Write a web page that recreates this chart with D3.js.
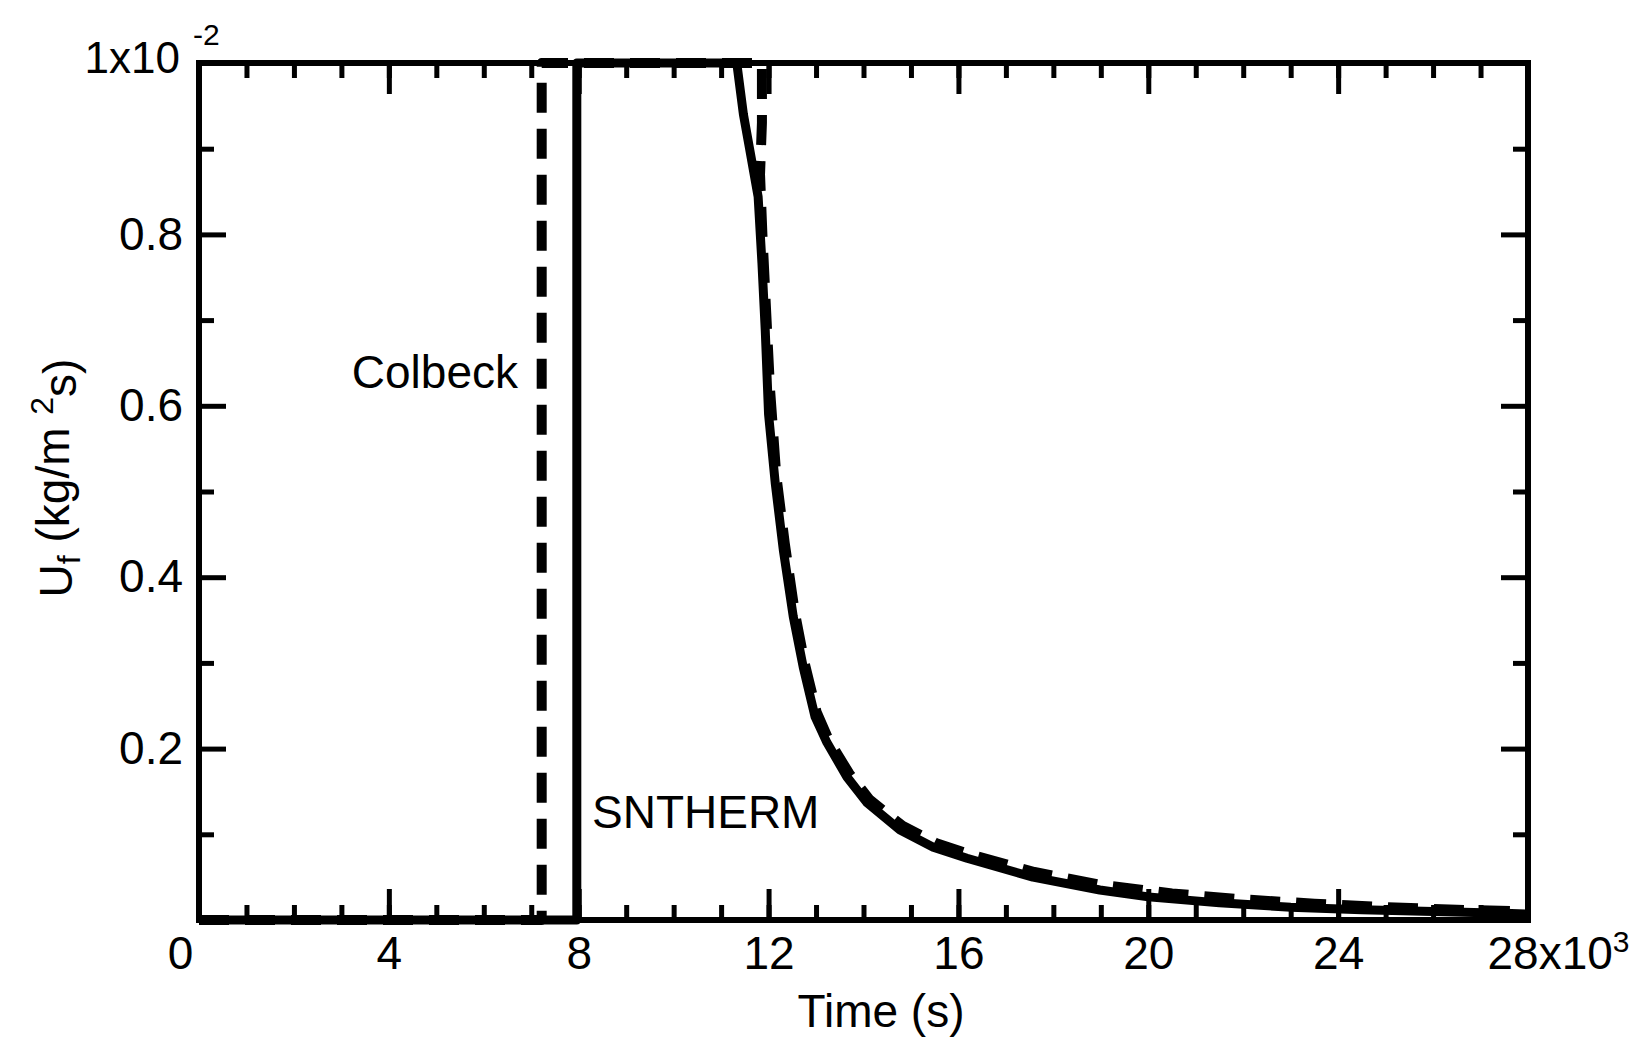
<!DOCTYPE html>
<html>
<head>
<meta charset="utf-8">
<script src="https://cdn.jsdelivr.net/npm/d3@7"></script>
<style>
  html, body { margin: 0; padding: 0; background: #fff; }
  text { font-family: "Liberation Sans", Arial, sans-serif; fill: #000; }
</style>
</head>
<body>
<svg id="chart" width="1642" height="1046"></svg>
<script>
// ---- data (time in 10^3 s, flux in 10^-2 kg/m^2 s) ----
const snthermTime = [0, 7.96, 7.96, 11.33, 11.47, 11.6, 11.78, 11.86, 11.93, 12.0, 12.14, 12.31, 12.52, 12.73, 12.98, 13.23, 13.65, 14.07, 14.77, 15.47, 16.18, 17.57, 18.98, 20.0, 21.5, 23.0, 24.5, 26.0, 27.5, 28];
const snthermFlux = [0, 0, 1.0, 1.0, 0.94, 0.90, 0.844, 0.767, 0.688, 0.59, 0.51, 0.432, 0.354, 0.295, 0.237, 0.207, 0.167, 0.137, 0.105, 0.085, 0.072, 0.050, 0.035, 0.027, 0.020, 0.015, 0.012, 0.010, 0.008, 0.007];

const colbeckTime = [0, 7.22, 7.22, 11.86, 11.86, 11.82, 11.87, 11.94, 12.03, 12.16, 12.34, 12.55, 12.76, 13.01, 13.27, 13.7, 14.12, 14.82, 15.52, 16.22, 17.6, 19.0, 20.5, 22.0, 23.5, 25.0, 26.5, 28];
const colbeckFlux = [0, 0, 1.0, 1.0, 0.93, 0.87, 0.80, 0.72, 0.62, 0.52, 0.44, 0.36, 0.30, 0.243, 0.21, 0.171, 0.141, 0.110, 0.090, 0.077, 0.056, 0.041, 0.031, 0.024, 0.019, 0.015, 0.012, 0.010];

const xMajorTicks = [0, 4, 8, 12, 16, 20, 24, 28];
const xMajorLabels = ["0", "4", "8", "12", "16", "20", "24", "28x10"];
const xMinorTicks = d3.range(0, 29, 1);
const yMajorTicks = [0.2, 0.4, 0.6, 0.8];
const yMajorLabels = ["0.2", "0.4", "0.6", "0.8"];
const yMinorTicks = [0.1, 0.3, 0.5, 0.7, 0.9];
const xExponent = "3";
const yTopLabel = "1x10";
const yExponent = "-2";
const seriesNames = ["Colbeck", "SNTHERM"];

// ---- layout ----
const svg = d3.select("#chart");
const L = 199, R = 1528, T = 63, B = 920;
const x = d3.scaleLinear().domain([0, 28]).range([L, R]);
const y = d3.scaleLinear().domain([0, 1]).range([B, T]);
const FS = 46;

svg.append("rect").attr("width", 1642).attr("height", 1046).attr("fill", "#fff");

// curves
const line = d3.line().x(d => x(d[0])).y(d => y(d[1]));
const sData = snthermTime.map((t, i) => [t, snthermFlux[i]]);
const cData = colbeckTime.map((t, i) => [t, colbeckFlux[i]]);

svg.append("path").datum(cData).attr("d", line)
  .attr("fill", "none").attr("stroke", "#000").attr("stroke-width", 10)
  .attr("stroke-dasharray", "30,16").attr("stroke-linejoin", "round");
svg.append("path").datum(sData).attr("d", line)
  .attr("fill", "none").attr("stroke", "#000").attr("stroke-width", 9)
  .attr("stroke-linejoin", "round");

// axes helper
function styleAxis(g) {
  g.select(".domain").remove();
  g.selectAll(".tick line").attr("stroke", "#000").attr("stroke-width", 5);
  g.selectAll("text").style("font-size", FS + "px").attr("fill", "#000");
}

// bottom
svg.append("g").attr("transform", `translate(0,${B})`)
  .call(d3.axisBottom(x).tickValues(xMinorTicks).tickSizeInner(-15).tickSizeOuter(0).tickFormat(""))
  .call(styleAxis);
const xb = svg.append("g").attr("transform", `translate(0,${B})`)
  .call(d3.axisBottom(x).tickValues(xMajorTicks).tickSizeInner(-31).tickSizeOuter(0).tickPadding(16)
    .tickFormat((d, i) => xMajorLabels[i]))
  .call(styleAxis);
xb.selectAll(".tick text").each(function(d) {
  const t = d3.select(this);
  if (d === 0) t.attr("x", -19);
  if (d === 28) {
    t.attr("text-anchor", "start").attr("x", -41);
    t.append("tspan").attr("dy", "-0.55em").style("font-size", "30px").text(xExponent);
  }
});
// top
svg.append("g").attr("transform", `translate(0,${T})`)
  .call(d3.axisTop(x).tickValues(xMinorTicks).tickSizeInner(-15).tickSizeOuter(0).tickFormat(""))
  .call(styleAxis);
svg.append("g").attr("transform", `translate(0,${T})`)
  .call(d3.axisTop(x).tickValues(xMajorTicks).tickSizeInner(-31).tickSizeOuter(0).tickFormat(""))
  .call(styleAxis);
// left
svg.append("g").attr("transform", `translate(${L},0)`)
  .call(d3.axisLeft(y).tickValues(yMinorTicks).tickSizeInner(-15).tickSizeOuter(0).tickFormat(""))
  .call(styleAxis);
svg.append("g").attr("transform", `translate(${L},0)`)
  .call(d3.axisLeft(y).tickValues(yMajorTicks).tickSizeInner(-27).tickSizeOuter(0).tickPadding(16)
    .tickFormat((d, i) => yMajorLabels[i]))
  .call(styleAxis);
// right
svg.append("g").attr("transform", `translate(${R},0)`)
  .call(d3.axisRight(y).tickValues(yMinorTicks).tickSizeInner(-15).tickSizeOuter(0).tickFormat(""))
  .call(styleAxis);
svg.append("g").attr("transform", `translate(${R},0)`)
  .call(d3.axisRight(y).tickValues(yMajorTicks).tickSizeInner(-27).tickSizeOuter(0).tickFormat(""))
  .call(styleAxis);

// frame
svg.append("rect").attr("x", L).attr("y", T).attr("width", R - L).attr("height", B - T)
  .attr("fill", "none").attr("stroke", "#000").attr("stroke-width", 6);

// top y label
svg.append("text").attr("x", 180).attr("y", y(1) - 6)
  .attr("text-anchor", "end").attr("dominant-baseline", "central")
  .style("font-size", "44px").text(yTopLabel);
svg.append("text").attr("x", 193).attr("y", y(1) - 18)
  .attr("text-anchor", "start")
  .style("font-size", "30px").text(yExponent);

// axis titles
svg.append("text").attr("x", 881).attr("y", 1027).attr("text-anchor", "middle")
  .style("font-size", FS + "px").text("Time (s)");

const yl = svg.append("text").attr("transform", "translate(72,478) rotate(-90)")
  .attr("text-anchor", "middle").style("font-size", FS + "px");
yl.append("tspan").text("U");
yl.append("tspan").attr("dy", "0.25em").style("font-size", "32px").text("f");
yl.append("tspan").attr("dy", "-0.25em").text("  (kg/m  ");
yl.append("tspan").attr("dy", "-0.5em").style("font-size", "32px").text("2");
yl.append("tspan").attr("dy", "0.5em").text("s)");

// series labels
svg.append("text").attr("x", 518).attr("y", 372).attr("text-anchor", "end")
  .attr("dominant-baseline", "central").style("font-size", FS + "px").text(seriesNames[0]);
svg.append("text").attr("x", 592).attr("y", 812).attr("text-anchor", "start")
  .attr("dominant-baseline", "central").style("font-size", FS + "px").text(seriesNames[1]);
</script>
</body>
</html>
